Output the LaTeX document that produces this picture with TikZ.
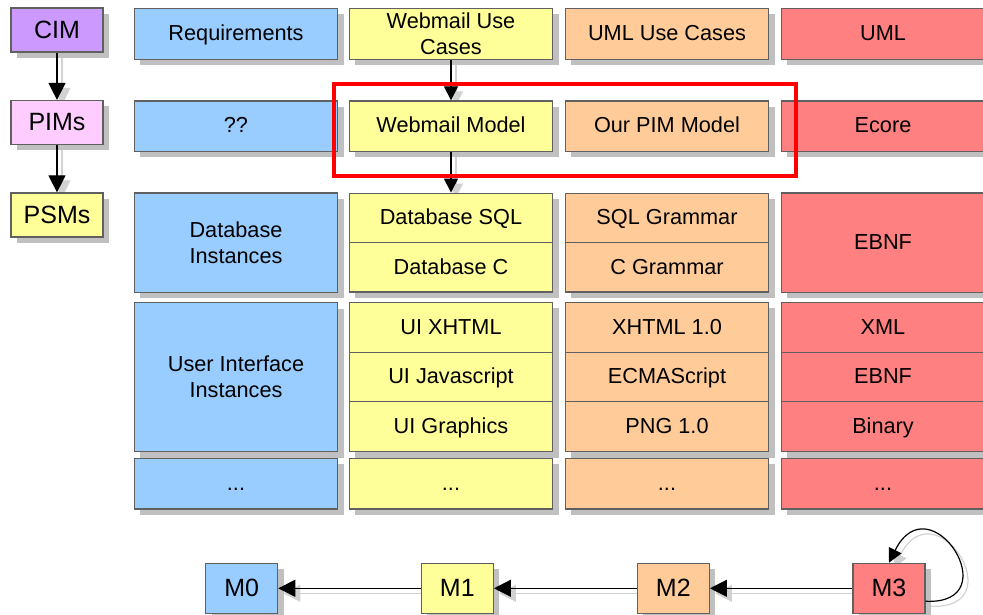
\documentclass[tikz,border=0pt]{standalone}
\usepackage{fontspec}
\setmainfont{Liberation Sans}
\usetikzlibrary{arrows.meta,shadows,backgrounds}

\definecolor{cblue}{HTML}{99CCFF}
\definecolor{cyellow}{HTML}{FFFF99}
\definecolor{corange}{HTML}{FFCC99}
\definecolor{cred}{HTML}{FF8080}
\definecolor{cpurple}{HTML}{CC99FF}
\definecolor{cpink}{HTML}{FFCCFF}
\definecolor{cborder}{HTML}{606060}
\definecolor{cshadow}{HTML}{C0C0C0}
\definecolor{clineshadow}{HTML}{D2D2D2}

\tikzset{
  cellbase/.style={draw=cborder, line width=1.2pt, inner sep=0pt, align=center,
    font=\fontsize{21.7}{26.5}\selectfont,
    drop shadow={shadow xshift=6pt, shadow yshift=-6pt, fill=cshadow, opacity=1}},
  cell/.style={cellbase, text height=13.6pt, text depth=0pt},
  level/.style={cellbase, font=\fontsize{25}{28}\selectfont, text height=16.8pt, text depth=0pt},
  sz/.style 2 args={minimum width=#1, minimum height=#2},
  bigtip/.style={-{Triangle[length=17pt,width=17pt]}},
  smalltip/.style={-{Triangle[length=14pt,width=14pt]}},
  conn/.style={draw=black, line width=1.2pt},
  connshadow/.style={draw=clineshadow, line width=1.2pt, fill=none,
    transform canvas={xshift=5pt, yshift=-5pt}},
  highlight/.style={draw=red, line width=4pt, inner sep=0pt},
}

\begin{document}
\begin{tikzpicture}[x=1pt, y=-1pt]
\useasboundingbox (0,0) rectangle (983,615);

% model levels on the left
\node[level, sz={92}{44}, fill=cpurple] (cim) at (57,30) {CIM};
\node[level, sz={92}{44}, fill=cpink]   (pim) at (57,122.5) {PIMs};
\node[level, sz={92}{44}, fill=cyellow] (psm) at (57,215) {PSMs};

% column 1: M0 (blue)
\node[cell, sz={203.5}{51},  fill=cblue] (req)  at (236,33.8) {Requirements};
\node[cell, sz={203.5}{50.5},fill=cblue] (qq)   at (236,126.2) {??};
\node[cellbase, sz={203.5}{99},  fill=cblue] (dbi)  at (236,242.6) {Database\\Instances};
\node[cellbase, sz={203.5}{149}, fill=cblue] (uii)  at (236,377) {User Interface\\Instances};
\node[cell, sz={203.5}{50.5},fill=cblue] (dots1) at (236,483.7) {...};

% column 2: M1 (yellow)
\node[cellbase, sz={203.5}{51},  fill=cyellow] (wuc)  at (451,33.8) {Webmail Use\\Cases};
\node[cell, sz={203.5}{50.5},fill=cyellow] (wm)   at (451,126.2) {Webmail Model};
\node[cell, sz={203.5}{49.4},fill=cyellow] (dbsql) at (451,217.9) {Database SQL};
\node[cell, sz={203.5}{49.4},fill=cyellow] (dbc)  at (451,267.3) {Database C};
\node[cell, sz={203.5}{49.7},fill=cyellow] (uix)  at (451,327.3) {UI XHTML};
\node[cell, sz={203.5}{49.7},fill=cyellow] (uij)  at (451,377) {UI Javascript};
\node[cell, sz={203.5}{49.7},fill=cyellow] (uig)  at (451,426.7) {UI Graphics};
\node[cell, sz={203.5}{50.5},fill=cyellow] (dots2) at (451,483.7) {...};

% column 3: M2 (orange)
\node[cell, sz={203.5}{51},  fill=corange] (umluc) at (667,33.8) {UML Use Cases};
\node[cell, sz={203.5}{50.5},fill=corange] (ourpim) at (667,126.2) {Our PIM Model};
\node[cell, sz={203.5}{49.4},fill=corange] (sqlg) at (667,217.9) {SQL Grammar};
\node[cell, sz={203.5}{49.4},fill=corange] (cg)   at (667,267.3) {C Grammar};
\node[cell, sz={203.5}{49.7},fill=corange] (xh)   at (667,327.3) {XHTML 1.0};
\node[cell, sz={203.5}{49.7},fill=corange] (ecma) at (667,377) {ECMAScript};
\node[cell, sz={203.5}{49.7},fill=corange] (png)  at (667,426.7) {PNG 1.0};
\node[cell, sz={203.5}{50.5},fill=corange] (dots3) at (667,483.7) {...};

% column 4: M3 (red)
\node[cell, sz={203.5}{51},  fill=cred] (uml)   at (883,33.8) {UML};
\node[cell, sz={203.5}{50.5},fill=cred] (ecore) at (883,126.2) {Ecore};
\node[cell, sz={203.5}{99},  fill=cred] (ebnf1) at (883,242.6) {EBNF};
\node[cell, sz={203.5}{49.7},fill=cred] (xml)   at (883,327.3) {XML};
\node[cell, sz={203.5}{49.7},fill=cred] (ebnf2) at (883,377) {EBNF};
\node[cell, sz={203.5}{49.7},fill=cred] (bin)   at (883,426.7) {Binary};
\node[cell, sz={203.5}{50.5},fill=cred] (dots4) at (883,483.7) {...};

% meta-levels along the bottom
\node[level, sz={72}{50}, fill=cblue]   (m0) at (241.7,588.3) {M0};
\node[level, sz={72}{50}, fill=cyellow] (m1) at (457.3,588.3) {M1};
\node[level, sz={72}{50}, fill=corange] (m2) at (673.3,588.3) {M2};
\node[level, sz={72}{50}, fill=cred]    (m3) at (889,588.3) {M3};

% connector shadows
\begin{scope}[on background layer]
  \draw[connshadow, bigtip] (cim) -- (pim);
  \draw[connshadow, bigtip] (pim) -- (psm);
  \draw[connshadow, smalltip] (wuc) -- (wm);
  \draw[connshadow, smalltip] (wm) -- (dbsql);
  \draw[connshadow, bigtip] (m1) -- (m0);
  \draw[connshadow, bigtip] (m2) -- (m1);
  \draw[connshadow, bigtip] (m3) -- (m2);
  \draw[connshadow, smalltip] ([yshift=-13pt]m3.east)
    .. controls (1010,605) and (930,480) .. (m3.north);
\end{scope}

% connectors
\draw[conn, bigtip] (cim) -- (pim);
\draw[conn, bigtip] (pim) -- (psm);
\draw[conn, smalltip] (wuc) -- (wm);
\draw[conn, smalltip] (wm) -- (dbsql);
\draw[conn, bigtip] (m1) -- (m0);
\draw[conn, bigtip] (m2) -- (m1);
\draw[conn, bigtip] (m3) -- (m2);
\draw[conn, smalltip] ([yshift=-13pt]m3.east)
  .. controls (1010,605) and (930,480) .. (m3.north);

% highlighted PIM row
\node[highlight, minimum width=462, minimum height=92] (pimframe) at (565,130) {};
\end{tikzpicture}
\end{document}
